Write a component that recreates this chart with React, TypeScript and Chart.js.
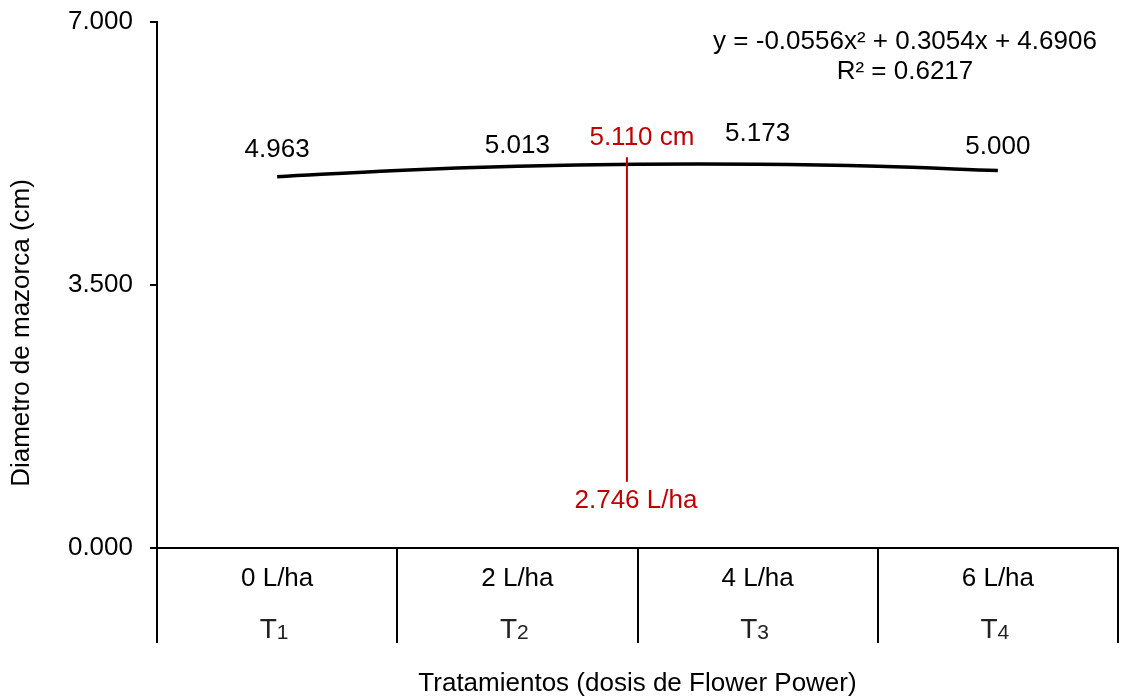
import React, { useEffect, useRef } from 'react';
import { Chart, registerables } from 'chart.js';

Chart.register(...registerables);

const FONT = '"Liberation Sans", Arial, Helvetica, sans-serif';

// Categories (doses) and treatment subscripts
const categories = ['0 L/ha', '2 L/ha', '4 L/ha', '6 L/ha'];
const treatmentNumbers = ['1', '2', '3', '4'];

// Mean values per treatment (labels above points)
const meanValues = [4.963, 5.013, 5.173, 5.0];

// Trend curve (treatment index, diameter)
const trendX = [1, 1.5, 2, 2.5, 3, 3.5, 4];
const trendY = [4.94, 5.024, 5.079, 5.106, 5.106, 5.079, 5.023];

// Y tick values
const yTicks = [0, 3.5, 7];

// Equation text
const equationLines = ['y = -0.0556x² + 0.3054x + 4.6906', 'R² = 0.6217'];

// Optimum marker (red line) as drawn
const optimumDose = 2.746;
const optimumValue = 5.11;
const markerX = 2.456;
const markerTop = 5.2;
const markerBottom = 0.88;

const overlayPlugin = {
  id: 'overlay',
  afterDatasetsDraw(chart: any) {
    const { ctx, chartArea } = chart;
    const xs = chart.scales.x;
    const ys = chart.scales.y;
    ctx.save();
    ctx.fillStyle = '#000';
    ctx.textAlign = 'center';
    ctx.textBaseline = 'middle';
    ctx.font = `26px ${FONT}`;

    // value labels
    meanValues.forEach((v, i) => {
      ctx.fillText(v.toFixed(3), xs.getPixelForValue(i + 1), ys.getPixelForValue(v) - 25);
    });

    // equation
    ctx.fillText(equationLines[0], chartArea.right - 213, chartArea.top + 20);
    ctx.fillText(equationLines[1], chartArea.right - 213, chartArea.top + 50);

    // red marker
    const mx = xs.getPixelForValue(markerX);
    ctx.strokeStyle = '#C00000';
    ctx.lineWidth = 2;
    ctx.beginPath();
    ctx.moveTo(mx, ys.getPixelForValue(markerTop));
    ctx.lineTo(mx, ys.getPixelForValue(markerBottom));
    ctx.stroke();
    ctx.fillStyle = '#C00000';
    ctx.fillText(`${optimumValue.toFixed(3)} cm`, mx + 15, ys.getPixelForValue(markerTop) - 19);
    ctx.fillText(`${optimumDose.toFixed(3)} L/ha`, mx + 9, ys.getPixelForValue(markerBottom) + 19);

    // category labels
    ctx.fillStyle = '#000';
    categories.forEach((c, i) => {
      const cx = xs.getPixelForValue(i + 1);
      ctx.font = `26px ${FONT}`;
      ctx.textAlign = 'center';
      ctx.textBaseline = 'middle';
      ctx.fillText(c, cx, chartArea.bottom + 31);
      // T with subscript
      ctx.textAlign = 'left';
      ctx.textBaseline = 'alphabetic';
      ctx.font = `28px ${FONT}`;
      const wT = ctx.measureText('T').width;
      ctx.font = `21px ${FONT}`;
      const wD = ctx.measureText(treatmentNumbers[i]).width;
      const start = cx - (wT + wD) / 2 - 3;
      const base = chartArea.bottom + 90;
      ctx.fillStyle = '#222';
      ctx.font = `28px ${FONT}`;
      ctx.fillText('T', start, base);
      ctx.font = `21px ${FONT}`;
      ctx.fillText(treatmentNumbers[i], start + wT, base + 1);
      ctx.fillStyle = '#000';
    });

    // axis titles
    ctx.font = `26px ${FONT}`;
    ctx.textAlign = 'center';
    ctx.textBaseline = 'middle';
    ctx.fillText('Tratamientos (dosis de Flower Power)', (chartArea.left + chartArea.right) / 2, chartArea.bottom + 136);
    ctx.save();
    ctx.translate(22, chartArea.bottom - 215);
    ctx.rotate(-Math.PI / 2);
    ctx.fillText('Diametro de mazorca (cm)', 0, 0);
    ctx.restore();

    ctx.restore();
  },
};

export default function App() {
  const ref = useRef<HTMLCanvasElement | null>(null);

  useEffect(() => {
    document.body.style.margin = '0';
    const canvas = ref.current;
    if (!canvas) return;
    const edges = [...categories.map((_, i) => i + 0.5), categories.length + 0.5];
    const chart = new Chart(canvas, {
      type: 'line',
      data: {
        datasets: [
          {
            label: 'trend',
            data: trendX.map((x, i) => ({ x, y: trendY[i] })),
            borderColor: '#000',
            borderWidth: 3.5,
            pointRadius: 0,
            tension: 0.4,
            fill: false,
          },
          {
            label: 'means',
            data: meanValues.map((v, i) => ({ x: i + 1, y: v })),
            showLine: false,
            pointRadius: 0,
          },
        ],
      },
      options: {
        animation: false,
        responsive: false,
        maintainAspectRatio: false,
        layout: { padding: { top: 22, right: 8, left: 0, bottom: 0 } },
        plugins: {
          legend: { display: false },
          tooltip: { enabled: false },
        },
        scales: {
          x: {
            type: 'linear',
            min: 0.5,
            max: categories.length + 0.5,
            afterBuildTicks: (s: any) => {
              s.ticks = edges.map((v) => ({ value: v }));
            },
            afterFit: (s: any) => {
              s.height = 151;
              s.paddingLeft = 0;
              s.paddingRight = 0;
            },
            ticks: { display: false },
            grid: {
              drawOnChartArea: false,
              drawTicks: true,
              tickLength: 95,
              color: '#000',
              lineWidth: 2,
            },
            border: { display: true, color: '#000', width: 2 },
          },
          y: {
            type: 'linear',
            min: 0,
            max: 7,
            afterBuildTicks: (s: any) => {
              s.ticks = yTicks.map((v) => ({ value: v }));
            },
            afterFit: (s: any) => {
              s.width = 157;
              s.paddingTop = 0;
              s.paddingBottom = 0;
            },
            ticks: {
              callback: (v: any) => Number(v).toFixed(3),
              font: { size: 26, family: FONT },
              color: '#000',
              padding: 17,
            },
            grid: {
              drawOnChartArea: false,
              drawTicks: true,
              tickLength: 7,
              color: '#000',
              lineWidth: 2,
            },
            border: { display: true, color: '#000', width: 2 },
          },
        },
      },
      plugins: [overlayPlugin],
    } as any);
    return () => chart.destroy();
  }, []);

  return (
    <div style={{ width: 1126, height: 699, background: '#fff' }}>
      <canvas ref={ref} width={1126} height={699} style={{ display: 'block' }} />
    </div>
  );
}
